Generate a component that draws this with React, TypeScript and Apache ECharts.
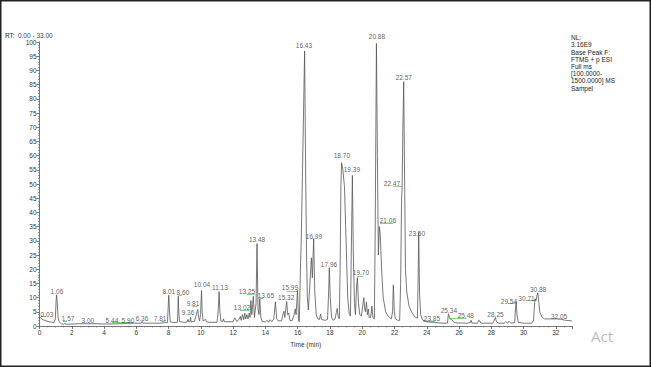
import React, { useEffect, useRef } from "react";
import * as echarts from "echarts";

// Chromatogram trace: retention time (min) and relative abundance (%)
const traceTimes = [
  0.0, 0.1, 0.3, 0.6, 0.9, 0.98, 1.03, 1.06, 1.1, 1.15, 1.22, 1.35, 1.5, 1.57, 1.65, 2.0, 2.5, 3.0, 3.5, 4.0,
  4.5, 5.0, 5.44, 5.9, 6.3, 6.36, 6.42, 7.0, 7.5, 7.81, 7.93, 7.97, 8.01, 8.05, 8.1, 8.3, 8.55, 8.58, 8.6, 8.63,
  8.68, 9.0, 9.15, 9.2, 9.25, 9.32, 9.36, 9.4, 9.6, 9.72, 9.78, 9.81, 9.86, 9.92, 9.98, 10.04, 10.08, 10.14, 10.3, 10.35,
  10.5, 11.0, 11.07, 11.13, 11.18, 11.24, 11.35, 11.4, 11.45, 12.0, 12.1, 12.15, 12.22, 12.35, 12.45, 12.5, 12.58, 12.65, 12.72, 12.78,
  12.85, 12.92, 13.0, 13.05, 13.1, 13.16, 13.25, 13.32, 13.42, 13.48, 13.54, 13.6, 13.65, 13.72, 13.8, 14.0, 14.1, 14.2, 14.3, 14.4,
  14.52, 14.62, 14.7, 14.8, 15.0, 15.1, 15.15, 15.2, 15.32, 15.38, 15.45, 15.52, 15.65, 15.78, 15.85, 15.9, 15.99, 16.05, 16.1, 16.17,
  16.22, 16.3, 16.43, 16.5, 16.55, 16.6, 16.66, 16.76, 16.85, 16.91, 16.99, 17.06, 17.15, 17.25, 17.35, 17.42, 17.48, 17.7, 17.85, 17.92,
  17.96, 18.02, 18.1, 18.2, 18.32, 18.4, 18.45, 18.52, 18.58, 18.63, 18.68, 18.72, 18.8, 18.9, 19.0, 19.1, 19.2, 19.27, 19.32, 19.39,
  19.45, 19.52, 19.58, 19.65, 19.7, 19.77, 19.85, 19.95, 20.05, 20.1, 20.15, 20.2, 20.26, 20.32, 20.38, 20.43, 20.52, 20.6, 20.66, 20.75,
  20.8, 20.88, 20.94, 21.0, 21.06, 21.12, 21.2, 21.3, 21.45, 21.6, 21.8, 21.88, 21.93, 21.99, 22.05, 22.2, 22.32, 22.38, 22.44, 22.47,
  22.52, 22.57, 22.63, 22.68, 22.76, 22.9, 23.1, 23.3, 23.42, 23.46, 23.5, 23.55, 23.62, 23.75, 24.0, 24.5, 25.0, 25.28, 25.34, 25.4,
  25.45, 25.55, 25.65, 25.8, 26.5, 26.7, 26.75, 26.8, 27.15, 27.22, 27.28, 27.35, 28.1, 28.2, 28.25, 28.32, 28.45, 28.8, 28.9, 29.0,
  29.1, 29.2, 29.45, 29.5, 29.54, 29.6, 29.68, 30.0, 30.5, 30.62, 30.66, 30.71, 30.76, 30.82, 30.88, 30.95, 31.0, 31.15, 31.3, 31.6,
  32.0, 32.3, 32.6, 33.0,
];
const traceValues = [
  3.2, 2.6, 2.0, 1.5, 1.2, 2.5, 9, 11, 8, 3, 1.5, 0.8, 0.6, 1.0, 0.6, 0.7, 0.8, 0.8, 0.8, 0.7,
  0.7, 0.8, 0.9, 1.0, 1.0, 1.6, 1.0, 1.0, 1.0, 1.2, 1.2, 6, 10.8, 6, 1.5, 1.2, 1.3, 6, 10.5, 5,
  1.5, 1.3, 1.4, 2.3, 1.4, 1.6, 3.0, 1.5, 1.6, 4, 5.5, 5.8, 3, 1.8, 4, 12.5, 5, 1.8, 2.3, 1.5,
  1.3, 1.3, 5, 12.1, 5, 1.8, 1.6, 2.5, 1.5, 1.5, 2.8, 2.6, 1.6, 2.2, 3.4, 2.0, 4, 2.2, 4.5, 2.5,
  4, 2.5, 4.5, 3, 9, 4, 10.5, 3, 8, 29, 6, 4, 9.5, 3, 1.6, 1.4, 2.0, 1.3, 2.2, 1.5,
  2.5, 8.5, 2.5, 1.8, 1.8, 4.5, 5.2, 3, 8.6, 4, 4.5, 2, 1.8, 4, 6, 4, 12.5, 2, 1.5, 20,
  30, 55, 96.8, 50, 25, 10, 5.6, 15, 24, 17, 30.7, 12, 4, 2.5, 2.3, 4.2, 2.3, 2, 2.3, 12,
  20.5, 10, 3, 2, 2.5, 5, 6.2, 3, 2.5, 20, 50, 57.5, 55, 49, 30, 10, 4, 3.5, 25, 53,
  25, 8, 4, 14, 17, 8, 4, 3.5, 8, 10, 6, 5, 8.5, 4, 6, 3, 3, 7, 3, 2.5,
  30, 99.5, 60, 25, 35, 32, 20, 10, 5, 3.5, 2.5, 5, 14.5, 5, 2.5, 2, 2, 15, 45, 48,
  70, 86, 50, 20, 12, 7, 4.5, 3, 2.8, 15, 32.9, 12, 4, 2, 1.5, 1.2, 1.0, 1.0, 4.3, 3.2,
  2.5, 2.3, 1.5, 1.1, 1.0, 1.2, 2.0, 1.0, 1.0, 2.0, 1.8, 1.0, 1.0, 2.2, 3.0, 1.5, 1.0, 1.0, 1.5, 1.0,
  1.6, 1.0, 1.2, 6.5, 8.6, 3.5, 1.2, 1.0, 1.0, 2, 6, 9.6, 8.8, 10.5, 11.7, 8, 5, 3, 2.5, 2.5,
  2.5, 2.4, 2.0, 1.8,
];

// Peak labels: text, time and height of the label centre
const peakLabelTexts = [
  "0.03", "1.06", "1.57", "3.00", "5.44", "5.90", "6.36", "7.81", "8.01", "8.60", "9.36", "9.81", "10.04", "11.13",
  "13.02", "13.25", "13.48", "13.65", "15.32", "15.99", "16.43", "16.99", "17.96", "18.70", "19.39", "19.70", "20.88",
  "21.06", "22.47", "22.57", "23.50", "23.85", "25.34", "25.48", "28.25", "29.54", "30.71", "30.88", "32.05",
];
const peakLabelTimes = [
  0.46, 1.08, 1.77, 3.0, 4.49, 5.48, 6.35, 7.47, 8.02, 8.89, 9.2, 9.51, 10.07, 11.18,
  12.55, 12.86, 13.48, 14.03, 15.29, 15.52, 16.39, 17.01, 17.94, 18.74, 19.36, 19.92, 20.91,
  21.59, 21.84, 22.58, 23.39, 24.32, 25.37, 26.42, 28.26, 29.09, 30.18, 30.9, 32.2,
];
const peakLabelHeights = [
  4.2, 12.0, 2.5, 1.8, 2.1, 2.1, 2.8, 2.8, 12.0, 11.7, 4.9, 7.8, 14.5, 13.4,
  6.4, 12.0, 30.4, 10.6, 9.9, 13.4, 98.6, 31.4, 21.6, 60.0, 55.0, 18.9, 101.8,
  37.1, 50.2, 87.6, 32.5, 2.8, 5.6, 3.6, 4.1, 8.8, 9.8, 12.9, 3.5,
];

// Green leader segments: start time, end time, height
const leaderStarts = [0.08, 1.45, 4.47, 7.57, 8.62, 9.5, 12.42, 12.84, 13.56, 15.3, 19.68, 21.1, 21.92, 23.78, 25.43, 29.03, 30.18];
const leaderEnds = [0.4, 1.7, 5.8, 7.8, 8.81, 9.8, 13.0, 13.35, 13.87, 15.97, 20.06, 21.9, 22.44, 24.5, 26.47, 29.46, 30.7];
const leaderHeights = [3.6, 1.6, 1.2, 1.5, 11.0, 6.8, 5.4, 11.3, 9.9, 12.3, 17.4, 36.3, 49.2, 1.5, 2.7, 8.0, 8.9];

const infoLines = ["NL:", "3.16E9", "Base Peak F:", "FTMS + p ESI", "Full ms", "[100.0000-", "1500.0000] MS", "Sampel"];

const FONT = "'Liberation Sans', Arial, sans-serif";

export default function App() {
  const ref = useRef<HTMLDivElement>(null);
  useEffect(() => {
    if (!ref.current) return;
    const chart = echarts.init(ref.current, undefined, { renderer: "svg" });
    const trace = traceTimes.map((t, i) => [t, traceValues[i]]);
    const labels = peakLabelTexts.map((s, i) => ({ name: s, value: [peakLabelTimes[i], peakLabelHeights[i]] }));
    const leaders = leaderStarts.map((s, i) => ({
      coords: [
        [s, leaderHeights[i]],
        [leaderEnds[i], leaderHeights[i]],
      ],
    }));
    chart.setOption({
      animation: false,
      backgroundColor: "#ffffff",
      textStyle: { fontFamily: FONT },
      grid: { left: 39.5, right: 79, top: 42, bottom: 41 },
      xAxis: {
        type: "value",
        min: 0,
        max: 33,
        interval: 2,
        name: "Time (min)",
        nameLocation: "middle",
        nameGap: 14,
        nameTextStyle: { fontSize: 6.5, color: "#333", fontFamily: FONT },
        axisLine: { lineStyle: { color: "#555", width: 0.8 } },
        axisTick: { length: 3, lineStyle: { color: "#555", width: 0.8 } },
        minorTick: { show: true, splitNumber: 4, length: 1.5, lineStyle: { color: "#666", width: 0.6 } },
        axisLabel: { fontSize: 6.5, color: "#333", margin: 3, showMaxLabel: false, fontFamily: FONT },
        splitLine: { show: false },
      },
      yAxis: {
        type: "value",
        min: 0,
        max: 100,
        interval: 5,
        axisLine: { show: true, lineStyle: { color: "#555", width: 0.8 } },
        axisTick: { show: true, length: 3, lineStyle: { color: "#555", width: 0.8 } },
        minorTick: { show: true, splitNumber: 5, length: 1.5, lineStyle: { color: "#666", width: 0.6 } },
        axisLabel: { fontSize: 6.5, color: "#333", margin: 3, fontFamily: FONT },
        splitLine: { show: false },
      },
      series: [
        {
          type: "line",
          data: trace,
          showSymbol: false,
          symbol: "none",
          lineStyle: { color: "#555", width: 0.8 },
          silent: true,
        },
        {
          type: "lines",
          coordinateSystem: "cartesian2d",
          data: leaders,
          lineStyle: { color: "#86cf86", width: 1, opacity: 1 },
          silent: true,
        },
        {
          type: "scatter",
          data: labels,
          symbolSize: 1,
          clip: false,
          itemStyle: { color: "rgba(0,0,0,0)" },
          label: {
            show: true,
            position: "inside",
            formatter: "{b}",
            fontSize: 6.5,
            color: "#333",
            fontFamily: FONT,
          },
          silent: true,
        },
      ],
      graphic: [
        {
          type: "rect",
          shape: { x: 0.75, y: 0.75, width: 649.5, height: 365.5 },
          style: { fill: "none", stroke: "#222", lineWidth: 1.5 },
          silent: true,
        },
        {
          type: "text",
          left: 5,
          top: 29,
          style: {
            text: "{a|RT:} {b|0.00 - 33.00}",
            rich: {
              a: { fontSize: 6.5, fill: "#222", fontFamily: FONT },
              b: { fontSize: 6.5, fill: "#2b3d9a", fontFamily: FONT },
            },
          },
        },
        {
          type: "text",
          left: 571,
          top: 34,
          style: {
            text: infoLines.join("\n"),
            fontSize: 6.5,
            lineHeight: 7.2,
            fill: "#222",
            fontFamily: FONT,
          },
        },
        {
          type: "text",
          left: 591,
          top: 328,
          style: { text: "Act", fontSize: 15, fill: "#bdbdbd", fontFamily: "'Open Sans', " + FONT },
        },
      ],
    });
    return () => chart.dispose();
  }, []);
  return (
    <div style={{ position: "fixed", left: 0, top: 0, width: 651, height: 367, background: "#fff" }}>
      <div ref={ref} style={{ width: 651, height: 367 }} />
    </div>
  );
}
